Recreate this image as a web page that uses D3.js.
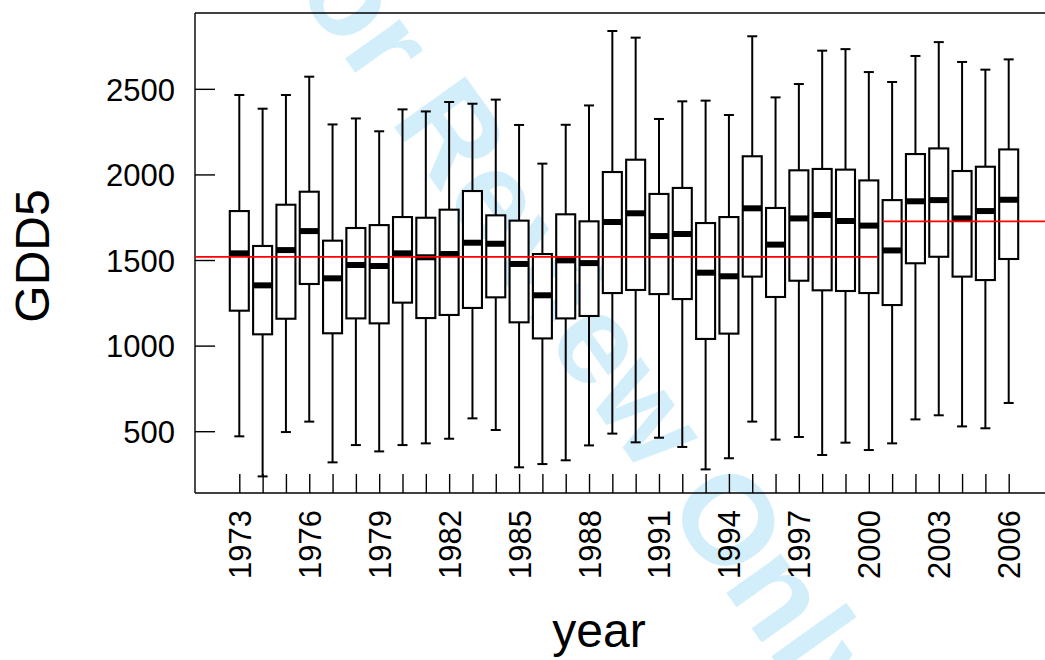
<!DOCTYPE html>
<html>
<head>
<meta charset="utf-8">
<script src="https://cdn.jsdelivr.net/npm/d3@7"></script>
<style>
  html, body { margin: 0; padding: 0; background: #fff; }
  svg { display: block; }
  text { font-family: "Liberation Sans", Arial, Helvetica, sans-serif; fill: #000; }
</style>
</head>
<body>
<svg id="chart" width="1045" height="660"></svg>
<script>
// ---- data ----
const years = [1973,1974,1975,1976,1977,1978,1979,1980,1981,1982,1983,1984,1985,1986,1987,1988,1989,
               1990,1991,1992,1993,1994,1995,1996,1997,1998,1999,2000,2001,2002,2003,2004,2005,2006];
const whiskerHigh = [2464,2384,2464,2571,2292,2327,2252,2380,2368,2423,2413,2437,2289,2063,2290,2403,2838,
                     2799,2324,2427,2431,2347,2807,2450,2528,2723,2732,2598,2540,2692,2773,2657,2612,2672];
const upperQuartile = [1786,1582,1823,1899,1613,1687,1704,1751,1747,1794,1903,1761,1730,1535,1767,1726,2014,
                       2086,1886,1921,1716,1751,2106,1804,2024,2032,2028,1965,1850,2119,2152,2020,2045,2146];
const medians = [1539,1352,1558,1669,1393,1471,1465,1539,1516,1535,1601,1595,1477,1294,1498,1482,1722,
                 1773,1640,1652,1426,1405,1802,1590,1743,1763,1728,1701,1556,1843,1850,1743,1786,1852];
const lowerQuartile = [1204,1066,1157,1360,1072,1159,1130,1251,1161,1179,1220,1282,1136,1042,1159,1173,1307,
                       1325,1301,1272,1039,1070,1403,1284,1379,1323,1319,1307,1237,1481,1519,1403,1383,1506];
const whiskerLow = [470,236,495,556,318,419,382,419,429,456,575,507,289,308,330,417,486,
                    435,462,408,277,342,556,451,466,361,433,390,429,569,593,528,517,665];

// period means (red reference lines)
const periodFrom = [1973, 2001];
const periodTo = [2000, 2006];
const periodMean = [1518, 1726];

const yTicks = [500, 1000, 1500, 2000, 2500];
const xLabelYears = [1973,1976,1979,1982,1985,1988,1991,1994,1997,2000,2003,2006];
const xTitle = "year";
const yTitle = "GDD5";
const watermark = "For Review Only";

// ---- layout ----
const svg = d3.select("#chart");
const plot = { left: 195, top: 13, bottom: 493, right: 1053 };
const pad = 1.9;

const x = d3.scaleLinear()
  .domain([years[0] - pad, years[years.length - 1] + pad])
  .range([plot.left, plot.right]);
const y = d3.scaleLinear()
  .domain([139, 2943])
  .range([plot.bottom, plot.top]);

const step = x(1974) - x(1973);
const boxW = step * 0.815;
const capW = 10;

// watermark (behind everything)
svg.append("text")
  .attr("transform", "translate(250,-75) rotate(54.5)")
  .attr("text-anchor", "start")
  .style("font-size", "127px")
  .style("font-weight", "bold")
  .style("fill", "#d3eefb")
  .text(watermark);

const data = years.map((yr, i) => ({
  yr, hi: whiskerHigh[i], q3: upperQuartile[i], med: medians[i], q1: lowerQuartile[i], lo: whiskerLow[i]
}));

// frame lines
const frame = svg.append("g").attr("stroke", "#000").attr("stroke-width", 1.4).attr("fill", "none");
frame.append("line").attr("x1", plot.left).attr("x2", plot.left).attr("y1", plot.top).attr("y2", plot.bottom);
frame.append("line").attr("x1", plot.left).attr("x2", 1045).attr("y1", plot.top).attr("y2", plot.top);

// y axis (ticks inward)
const yAxis = d3.axisLeft(y).tickValues(yTicks).tickSize(-20).tickPadding(20).tickFormat(d3.format("d"));
const gy = svg.append("g").attr("transform", `translate(${plot.left},0)`).call(yAxis);
gy.select(".domain").remove();
gy.selectAll(".tick line").attr("stroke", "#000").attr("stroke-width", 1.4);
gy.selectAll(".tick text").style("font-size", "31px").attr("font-family", null).attr("dy", "0.36em");

// x axis (ticks inward, every year)
const xAxis = d3.axisBottom(x).tickValues(years).tickSize(-19).tickFormat("");
const gx = svg.append("g").attr("transform", `translate(0,${plot.bottom})`).call(xAxis);
gx.select(".domain").remove();
gx.selectAll(".tick line").attr("stroke", "#000").attr("stroke-width", 1.4);
svg.append("line").attr("x1", plot.left).attr("x2", 1045).attr("y1", plot.bottom).attr("y2", plot.bottom)
  .attr("stroke", "#000").attr("stroke-width", 1.4);

// x tick labels rotated
svg.append("g").selectAll("text").data(xLabelYears).join("text")
  .attr("transform", d => `translate(${x(d) + 11.5},510) rotate(-90)`)
  .attr("text-anchor", "end")
  .style("font-size", "31px")
  .text(d => d);

// boxes
const g = svg.append("g");
const bx = g.selectAll("g.box").data(data).join("g").attr("class", "box");

// whiskers
bx.append("line").attr("x1", d => x(d.yr)).attr("x2", d => x(d.yr))
  .attr("y1", d => y(d.q3)).attr("y2", d => y(d.hi))
  .attr("stroke", "#000").attr("stroke-width", 2);
bx.append("line").attr("x1", d => x(d.yr)).attr("x2", d => x(d.yr))
  .attr("y1", d => y(d.q1)).attr("y2", d => y(d.lo))
  .attr("stroke", "#000").attr("stroke-width", 2);
bx.append("line").attr("x1", d => x(d.yr) - capW / 2).attr("x2", d => x(d.yr) + capW / 2)
  .attr("y1", d => y(d.hi)).attr("y2", d => y(d.hi))
  .attr("stroke", "#000").attr("stroke-width", 2);
bx.append("line").attr("x1", d => x(d.yr) - capW / 2).attr("x2", d => x(d.yr) + capW / 2)
  .attr("y1", d => y(d.lo)).attr("y2", d => y(d.lo))
  .attr("stroke", "#000").attr("stroke-width", 2);

// box rect
bx.append("rect")
  .attr("x", d => x(d.yr) - boxW / 2)
  .attr("width", boxW)
  .attr("y", d => y(d.q3))
  .attr("height", d => y(d.q1) - y(d.q3))
  .attr("fill", "#fff").attr("stroke", "#000").attr("stroke-width", 2.1);

// median bar
bx.append("rect")
  .attr("x", d => x(d.yr) - boxW / 2)
  .attr("width", boxW)
  .attr("y", d => y(d.med) - 3)
  .attr("height", 6)
  .attr("fill", "#000");

// red period means
svg.append("g").selectAll("line").data(periodMean).join("line")
  .attr("x1", (d, i) => i === 0 ? plot.left : x(periodFrom[i] - 0.4))
  .attr("x2", (d, i) => i === periodMean.length - 1 ? plot.right : x(periodTo[i] + 0.4))
  .attr("y1", d => y(d)).attr("y2", d => y(d))
  .attr("stroke", "#ff0000").attr("stroke-width", 1.8);

// axis titles
svg.append("text")
  .attr("transform", "translate(49,256) rotate(-90)")
  .attr("text-anchor", "middle")
  .style("font-size", "48px")
  .text(yTitle);
svg.append("text")
  .attr("x", 599).attr("y", 647)
  .attr("text-anchor", "middle")
  .style("font-size", "48px")
  .text(xTitle);
</script>
</body>
</html>
